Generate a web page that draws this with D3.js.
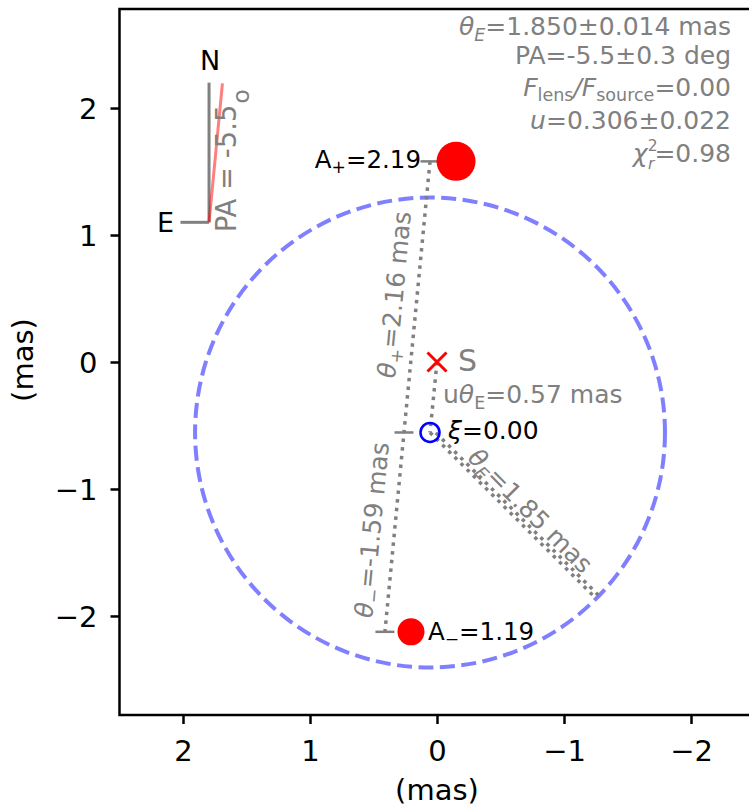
<!DOCTYPE html>
<html><head><meta charset="utf-8">
<script src="https://cdn.jsdelivr.net/npm/d3@7"></script>
<style>body{margin:0;background:#fff;} svg{display:block;} text{font-family:"DejaVu Sans",sans-serif;}</style>
</head><body><svg id="c" width="749" height="810"></svg>
<script>
// ---- data (mas) ----
const xTicks = [2, 1, 0, -1, -2];
const yTicks = [2, 1, 0, -1, -2];
const xDomain = [2.5, -2.5];
const yDomain = [-2.78, 2.78];
const sourceXY = [0, 0];
const lensXY = [0.055, -0.555];
const imageX = [-0.15, 0.205];
const imageY = [1.58, -2.125];
const imageSign = ["+", "−"];
const magnifications = [2.19, 1.19];
const thetaImages = [2.16, -1.59];
const thetaE = 1.85;
const uThetaE = 0.57;
const xi = 0.00;
const paDeg = -5.5;
const thetaEFit = [1.850, 0.014];
const paFit = [-5.5, 0.3];
const fluxRatio = 0.00;
const uFit = [0.306, 0.022];
const chi2r = 0.98;

// ---- setup ----
const svg = d3.select("#c");
const GRAY = "#808080";
const FS = 25;
const x = d3.scaleLinear().domain(xDomain).range([119.5, 754.5]);
const y = d3.scaleLinear().domain(yDomain).range([715, 9]);
const pxPerMas = Math.abs(x(1) - x(0));
const rScale = d3.scaleLinear().domain([1.19, 2.19]).range([13.5, 19.5]);

function rich(text, parts, size) {
  let cur = 0;
  parts.forEach(p => {
    const sz = p.s ? size * (p.k || 0.7) : size;
    const target = p.s === "sub" ? size * (p.sh || 0.22) : p.s === "sup" ? -size * (p.sh || 0.42) : 0;
    const ts = text.append("tspan").attr("font-size", sz).text(p.t);
    if (target !== cur) ts.attr("dy", target - cur);
    cur = target;
    if (p.i) ts.attr("font-style", "italic");
    if (p.dx) ts.attr("dx", p.dx);
  });
  return text;
}

// ---- axes ----
const gx = svg.append("g").attr("transform", `translate(0,${y.range()[0]})`)
  .call(d3.axisBottom(x).tickValues(xTicks).tickSize(9).tickFormat(d3.format("d")));
gx.select(".domain").remove();
gx.selectAll(".tick line").attr("stroke", "#000").attr("stroke-width", 2.5);
gx.selectAll(".tick text").attr("font-size", 29).attr("font-family", "DejaVu Sans")
  .attr("fill", "#000").attr("y", 46).attr("dy", 0);

const gy = svg.append("g").attr("transform", `translate(${x.range()[0]},0)`)
  .call(d3.axisLeft(y).tickValues(yTicks).tickSize(9).tickPadding(13).tickFormat(d3.format("d")));
gy.select(".domain").remove();
gy.selectAll(".tick line").attr("stroke", "#000").attr("stroke-width", 2.5);
gy.selectAll(".tick text").attr("font-size", 29).attr("font-family", "DejaVu Sans")
  .attr("fill", "#000").attr("dy", "0.36em");

svg.append("rect").attr("x", x.range()[0]).attr("y", y.range()[1])
  .attr("width", x.range()[1] - x.range()[0]).attr("height", y.range()[0] - y.range()[1])
  .attr("fill", "none").attr("stroke", "#000").attr("stroke-width", 2.5);

svg.append("text").attr("x", (x.range()[0] + x.range()[1]) / 2).attr("y", 800)
  .attr("text-anchor", "middle").attr("font-size", 29).text("(mas)");
svg.append("text").attr("transform", `translate(33,${(y.range()[0] + y.range()[1]) / 2 - 2}) rotate(-90)`)
  .attr("text-anchor", "middle").attr("font-size", 29).text("(mas)");

// ---- compass ----
const cBase = [1.795, 1.10], cLen = 1.1, eLen = 0.225;
const pa = paDeg * Math.PI / 180;
const comp = svg.append("g");
comp.append("line").attr("x1", x(cBase[0])).attr("y1", y(cBase[1]))
  .attr("x2", x(cBase[0])).attr("y2", y(cBase[1] + cLen)).attr("stroke", GRAY).attr("stroke-width", 3);
comp.append("line").attr("x1", x(cBase[0])).attr("y1", y(cBase[1]))
  .attr("x2", x(cBase[0] + eLen)).attr("y2", y(cBase[1])).attr("stroke", GRAY).attr("stroke-width", 3);
comp.append("line").attr("x1", x(cBase[0])).attr("y1", y(cBase[1]))
  .attr("x2", x(cBase[0] + cLen * Math.sin(pa))).attr("y2", y(cBase[1] + cLen * Math.cos(pa)))
  .attr("stroke", "#ff0000").attr("stroke-opacity", 0.5).attr("stroke-width", 3);
comp.append("text").attr("x", x(cBase[0]) + 1).attr("y", y(cBase[1] + cLen) - 12.5)
  .attr("text-anchor", "middle").attr("font-size", 27).text("N");
comp.append("text").attr("x", x(cBase[0] + eLen) - 6.5).attr("y", y(cBase[1]) + 9.5)
  .attr("text-anchor", "end").attr("font-size", 27).text("E");
rich(comp.append("text").attr("transform", `translate(${x(cBase[0]) + 26.5},${y(cBase[1]) + 10}) rotate(-90)`)
  .attr("fill", GRAY), [{t: `PA = ${paDeg}`}, {t: "o", s: "sub", k: 0.85, sh: 0.5, dx: 1}], 27.5);

// ---- Einstein ring ----
const lx = x(lensXY[0]), ly = y(lensXY[1]);
const sx = x(sourceXY[0]), sy = y(sourceXY[1]);
svg.append("circle").attr("cx", lx).attr("cy", ly).attr("r", thetaE * pxPerMas)
  .attr("fill", "none").attr("stroke", "#7f7fff").attr("stroke-width", 4)
  .attr("stroke-dasharray", "15,6.5");

// ---- dotted lines ----
const dot = sel => sel.attr("fill", "none").attr("stroke", GRAY).attr("stroke-width", 3.5)
  .attr("stroke-dasharray", "3.5,5.2");
// source -> lens
svg.append("line").attr("x1", sx).attr("y1", sy).attr("x2", lx).attr("y2", ly).call(dot);
// lens -> ring (thetaE)
const rx = x(lensXY[0] - thetaE * Math.cos(Math.PI / 4)), ry = y(lensXY[1] - thetaE * Math.sin(Math.PI / 4));
svg.append("line").attr("x1", lx).attr("y1", ly).attr("x2", rx).attr("y2", ry).call(dot);
svg.append("line").attr("x1", lx + 2.8).attr("y1", ly - 2.8).attr("x2", rx + 2.8).attr("y2", ry - 2.8)
  .call(dot).attr("stroke-dashoffset", 4.3);

// dimension line along image axis, offset in x
const off = 0.205;
const dTop = [x(imageX[0] + off), y(imageY[0])];
const dMid = [x(lensXY[0] + off), ly];
const dBot = [x(imageX[1] + off), y(imageY[1])];
svg.append("path").attr("d", d3.line()([dTop, dMid, dBot])).call(dot);
[dTop, dMid, dBot].forEach(p => {
  svg.append("line").attr("x1", p[0] - 9.5).attr("x2", p[0] + 9.5).attr("y1", p[1]).attr("y2", p[1])
    .attr("stroke", GRAY).attr("stroke-width", 2.5);
});

// rotated labels on dimension line
function segLabel(a, b, parts, offsetPerp, shift) {
  const ang = Math.atan2(b[1] - a[1], b[0] - a[0]) * 180 / Math.PI;
  const mx = (a[0] + b[0]) / 2, my = (a[1] + b[1]) / 2;
  const t = svg.append("text").attr("transform", `translate(${mx},${my}) rotate(${ang})`)
    .attr("x", shift).attr("y", -offsetPerp).attr("text-anchor", "middle").attr("fill", GRAY);
  rich(t, parts, FS);
}
segLabel(dMid, dTop, [{t: "θ", i: true}, {t: imageSign[0], s: "sub"}, {t: `=${thetaImages[0].toFixed(2)} mas`}], 14, 0);
segLabel(dBot, dMid, [{t: "θ", i: true}, {t: imageSign[1], s: "sub"}, {t: `=${thetaImages[1].toFixed(2)} mas`}], 14, 0);
segLabel([lx, ly], [rx, ry], [{t: "θ", i: true}, {t: "E", i: true, s: "sub"}, {t: `=${thetaE.toFixed(2)} mas`}], 7, 9);

// ---- source ----
const sz = 9.5;
svg.append("path").attr("d", `M${sx - sz},${sy - sz}L${sx + sz},${sy + sz}M${sx - sz},${sy + sz}L${sx + sz},${sy - sz}`)
  .attr("stroke", "#ff0000").attr("stroke-width", 3).attr("fill", "none");
svg.append("text").attr("x", sx + 21).attr("y", sy + 8.5).attr("font-size", 30).attr("fill", GRAY).text("S");
rich(svg.append("text").attr("x", (sx + lx) / 2 + 9.5).attr("y", (sy + ly) / 2 + 6).attr("fill", GRAY),
  [{t: "u"}, {t: "θ", i: true}, {t: "E", s: "sub"}, {t: `=${uThetaE.toFixed(2)} mas`}], FS);

// ---- lens ----
svg.append("circle").attr("cx", lx).attr("cy", ly).attr("r", 9.5)
  .attr("fill", "none").attr("stroke", "#0000ff").attr("stroke-width", 2.5);
rich(svg.append("text").attr("x", lx + 18).attr("y", ly + 6.5).attr("fill", "#000"),
  [{t: "ξ", i: true}, {t: `=${xi.toFixed(2)}`}], FS);

// ---- images ----
imageX.forEach((ix, i) => {
  svg.append("circle").attr("cx", x(ix)).attr("cy", y(imageY[i])).attr("r", rScale(magnifications[i]))
    .attr("fill", "#ff0000");
});
rich(svg.append("text").attr("x", dTop[0] - 9).attr("y", dTop[1] + 6.5).attr("text-anchor", "end"),
  [{t: "A"}, {t: imageSign[0], s: "sub"}, {t: `=${magnifications[0].toFixed(2)}`}], 24.5);
rich(svg.append("text").attr("x", x(imageX[1]) + 17).attr("y", y(imageY[1]) + 8),
  [{t: "A"}, {t: imageSign[1], s: "sub"}, {t: `=${magnifications[1].toFixed(2)}`}], 24.5);

// ---- fit parameters ----
const fitLines = [
  [{t: "θ", i: true}, {t: "E", i: true, s: "sub"}, {t: `=${thetaEFit[0].toFixed(3)}±${thetaEFit[1].toFixed(3)} mas`}],
  [{t: `PA=${paFit[0].toFixed(1)}±${paFit[1].toFixed(1)} deg`}],
  [{t: "F", i: true}, {t: "lens", s: "sub", sh: 0.18}, {t: "/", i: true}, {t: "F", i: true}, {t: "source", s: "sub", sh: 0.18}, {t: `=${fluxRatio.toFixed(2)}`}],
  [{t: "u", i: true}, {t: `=${uFit[0].toFixed(3)}±${uFit[1].toFixed(3)}`}],
  [{t: "χ", i: true}, {t: "2", s: "sup", k: 0.62, sh: 0.46}, {t: "r", i: true, s: "sub", k: 0.62, sh: 0.26, dx: -9.5}, {t: `=${chi2r.toFixed(2)}`}]
];
const baselines = [35, 64, 96, 129, 162];
fitLines.forEach((parts, i) => {
  rich(svg.append("text").attr("x", 731).attr("y", baselines[i]).attr("text-anchor", "end").attr("fill", GRAY), parts, FS);
});
</script></body></html>
